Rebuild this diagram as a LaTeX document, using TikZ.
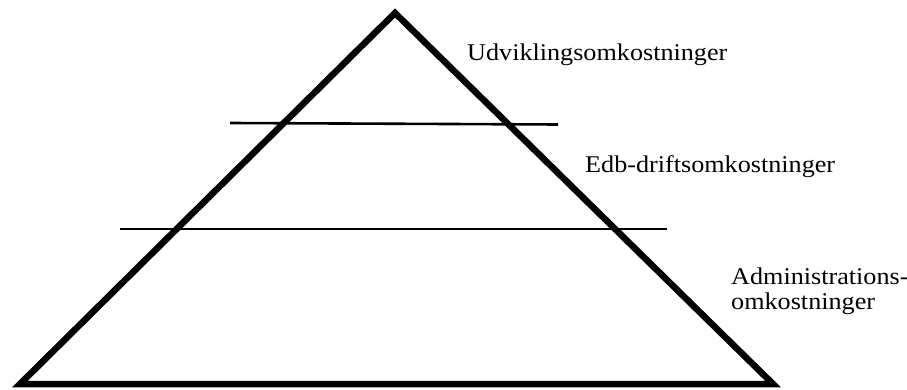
\documentclass[tikz,border=0pt]{standalone}
\usepackage{fontspec}
\setmainfont{Liberation Serif}[FakeStretch=1.09]
\begin{document}
\begin{tikzpicture}[x=1pt,y=-1pt,
  edge/.style={line width=6.5pt,line join=miter,line cap=butt},
  cut/.style={line width=2.6pt},
  lbl/.style={anchor=base west,inner sep=0pt,font=\fontsize{24}{26}\selectfont}]
\useasboundingbox (0,0) rectangle (907,390);
\fill[white] (0,0) rectangle (907,390);
\coordinate (apex) at (395,13);
\coordinate (bl) at (20,384);
\coordinate (br) at (773,384);
\draw[edge] (apex) -- (br) -- (bl) -- cycle;
\coordinate (c1a) at (230,123);
\coordinate (c1b) at (558,124.5);
\coordinate (c2a) at (120,229);
\coordinate (c2b) at (667,229);
\draw[cut] (c1a) -- (c1b);
\draw[cut] (c2a) -- (c2b);
\node[lbl] (u) at (467,61) {Udviklingsomkostninger};
\node[lbl] (e) at (585,173) {Edb-driftsomkostninger};
\node[lbl] (a) at (731,284) {Administrations-};
\node[lbl] (o) at (731,309) {omkostninger};
\end{tikzpicture}
\end{document}
